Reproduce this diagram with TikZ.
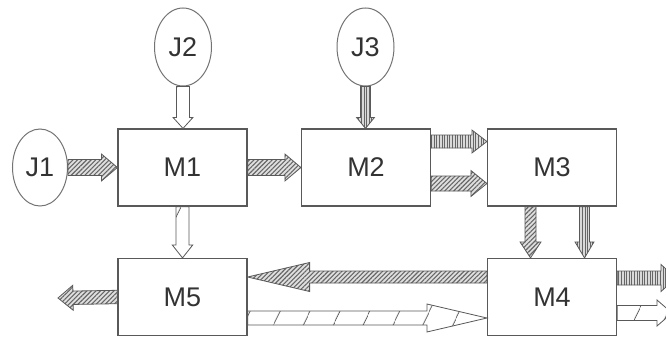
\documentclass[tikz,border=0pt]{standalone}
\usepackage{fontspec}
\setmainfont{Liberation Sans}
\usetikzlibrary{calc,shapes.geometric,patterns.meta}
\newcommand\blockarr[6]{%
  \path ($(#3)!#6!(#2)$) coordinate (hb);
  \filldraw[#1] ($(#2)!#4!90:(#3)$) -- ($(hb)!#4!90:(#3)$) -- ($(hb)!#5!90:(#3)$) -- (#3)
    -- ($(hb)!#5!-90:(#3)$) -- ($(hb)!#4!-90:(#3)$) -- ($(#2)!#4!-90:(#3)$) -- cycle;
}
\tikzset{
  txt/.style={text=black!80, font=\fontsize{27}{27}\selectfont, inner sep=0pt},
  box/.style={txt, draw=black!65, line width=1.2pt, rectangle, minimum width=129pt, minimum height=77pt},
  src/.style={txt, draw=black!55, line width=1pt, ellipse, minimum width=57pt, minimum height=78pt},
  arr/.style={draw=black!65, line width=0.8pt, line join=miter},
  hatch/.style={arr, preaction={fill=gray!25}, pattern={Lines[angle=45,distance=3.2pt,line width=1.1pt]}, pattern color=black!60},
  vstripe/.style={arr, preaction={fill=gray!30}, pattern={Lines[angle=90,distance=2.6pt,line width=0.9pt]}, pattern color=black!60},
  sparse/.style={arr, preaction={fill=white}, pattern={Lines[angle=65,distance=27pt,line width=0.8pt]}, pattern color=black!65}
}
\begin{document}
\begin{tikzpicture}[x=1pt,y=-1pt]
\useasboundingbox (0,0) rectangle (666,337);
\fill[white] (0,0) rectangle (666,337);
\clip (0,0) rectangle (666,337);
% sources
\node[src, minimum width=55pt, minimum height=77pt] (J1) at (40,167.5) {J1};
\node[src] (J2) at (183,47) {J2};
\node[src] (J3) at (365.5,47) {J3};
% blocks
\node[box] (M1) at (182.5,167.5) {M1};
\node[box] (M2) at (366,167.5) {M2};
\node[box] (M3) at (552,167.5) {M3};
\node[box] (M5) at (182.5,297) {M5};
\node[box] (M4) at (552,297) {M4};
% helper coordinates
\coordinate (j2b) at (J2.south |- M1.north);
\coordinate (j3b) at (J3.south |- M2.north);
\coordinate (m2u) at ($(M2.east)+(0,-26)$);
\coordinate (m3u) at ($(M3.west)+(0,-26)$);
\coordinate (m2l) at ($(M2.east)+(0,16)$);
\coordinate (m3l) at ($(M3.west)+(0,16)$);
\coordinate (m3a) at ($(M3.south)+(-21.5,0)$);
\coordinate (m4a) at ($(M4.north)+(-21.5,0)$);
\coordinate (m3b) at ($(M3.south)+(32.5,0)$);
\coordinate (m4b) at ($(M4.north)+(32.5,0)$);
\coordinate (m4w) at ($(M4.west)+(0,-20)$);
\coordinate (m5e) at ($(M5.east)+(0,-20)$);
\coordinate (m5l) at ($(M5.east)+(0,21)$);
\coordinate (m4l) at ($(M4.west)+(0,21)$);
\coordinate (m4u) at ($(M4.east)+(0,-19)$);
\coordinate (m4d) at ($(M4.east)+(0,16)$);
\coordinate (out1) at (58,298);
\coordinate (out2) at (676,278);
\coordinate (out3) at (672,313);
% arrows
\blockarr{hatch}{J1.east}{M1.west}{8pt}{13.5pt}{16pt}
\blockarr{hatch}{M1.east}{M2.west}{8pt}{13.5pt}{16pt}
\blockarr{sparse}{J2.south}{j2b}{6.5pt}{10pt}{11pt}
\blockarr{vstripe}{J3.south}{j3b}{5pt}{9pt}{11pt}
\blockarr{vstripe}{m2u}{m3u}{6.5pt}{11.5pt}{15pt}
\blockarr{hatch}{m2l}{m3l}{7.5pt}{13pt}{16pt}
\blockarr{sparse}{M1.south}{M5.north}{6.5pt}{10.3pt}{13pt}
\blockarr{hatch}{m3a}{m4a}{5.5pt}{10.5pt}{16pt}
\blockarr{vstripe}{m3b}{m4b}{5pt}{9.5pt}{16pt}
\blockarr{hatch}{m4w}{m5e}{6pt}{14.5pt}{62pt}
\blockarr{hatch}{M5.west}{out1}{6.7pt}{12.5pt}{15pt}
\blockarr{sparse}{m5l}{m4l}{7pt}{14pt}{60pt}
\blockarr{vstripe}{m4u}{out2}{7pt}{13.5pt}{15pt}
\blockarr{sparse}{m4d}{out3}{7.5pt}{13pt}{15pt}
\end{tikzpicture}
\end{document}
